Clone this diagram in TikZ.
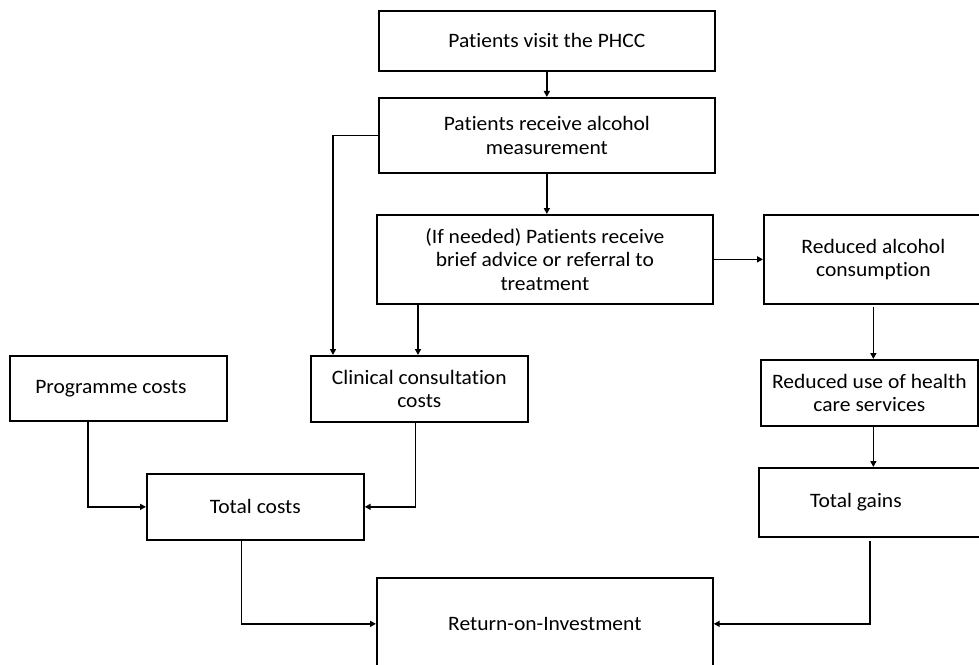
\documentclass[tikz,border=0pt]{standalone}
\usepackage{fontspec}
\setmainfont{Carlito}[Ligatures=NoCommon, FakeStretch=1.05]
\usetikzlibrary{arrows.meta,calc}

\tikzset{
  box/.style={draw=black, line width=1.7bp, rectangle, anchor=north west,
    align=center, inner sep=0pt, font=\fontsize{20.5bp}{23.5bp}\selectfont},
  arr/.style={draw=black, line width=1.6bp,
    -{Triangle[length=6bp,width=6bp]}},
}

\begin{document}
\begin{tikzpicture}[x=1bp,y=-1bp]
  \useasboundingbox (0,0) rectangle (979,665);

  % process chain
  \node[box, minimum width=336bp, minimum height=60bp] (phcc) at (378,10)
    {Patients visit the PHCC};
  \node[box, minimum width=336bp, minimum height=75bp] (meas) at (378,97)
    {Patients receive alcohol\\measurement};
  \node[box, minimum width=336bp, minimum height=89bp] (cond) at (376,214)
    {(If needed) Patients receive\\brief advice or referral to\\treatment};

  % benefit side
  \node[box, minimum width=219bp, minimum height=89bp] (red) at (763,214)
    {Reduced alcohol\\consumption};
  \node[box, minimum width=217bp, minimum height=66bp] (use) at (760,359)
    {Reduced use of health\\care services};
  \node[box, minimum width=232bp, minimum height=69bp] (gains) at (758,467)
    {Total gains\hspace{38bp}};

  % cost side
  \node[box, minimum width=217bp, minimum height=65bp] (prog) at (9,355)
    {Programme costs\hspace{15bp}};
  \node[box, minimum width=217bp, minimum height=66bp] (clin) at (310,355)
    {Clinical consultation\\costs};
  \node[box, minimum width=217bp, minimum height=66bp] (total) at (146,473)
    {Total costs};

  % outcome
  \node[box, minimum width=336bp, minimum height=92bp] (roi) at (376,577)
    {Return-on-Investment};

  % connectors
  \draw[arr] (phcc.south) -- (meas.north);
  \draw[arr] (meas.south) -- (meas.south |- cond.north);
  \draw[arr] (meas.west) -| ($(clin.north west)+(23,0)$);
  \draw[arr] ($(cond.south west)+(42,0)$) -- ($(clin.north west)+(108,0)$);
  \draw[arr] (cond.east) -- (red.west);
  \draw[arr] ($(red.south)+(0,2)$) -- (use.north -| red.south);
  \draw[arr] (use.south -| red.south) -- (gains.north -| red.south);
  \draw[arr] ($(prog.south west)+(79,0)$) |- (total.west);
  \draw[arr] ($(clin.south)+(-4,0)$) |- (total.east);
  \draw[arr] ($(total.south)+(-14,0)$) |- (roi.west);
  \draw[arr] ($(gains.south west)+(112,3)$) |- (roi.east);
\end{tikzpicture}
\end{document}
